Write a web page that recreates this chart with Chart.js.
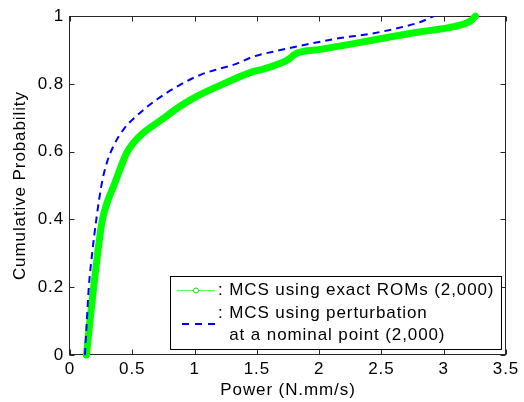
<!DOCTYPE html>
<html>
<head>
<meta charset="utf-8">
<script src="https://cdn.jsdelivr.net/npm/chart.js@4.4.1/dist/chart.umd.min.js"></script>
<style>
  html, body { margin: 0; padding: 0; background: #fff; }
  #wrap { width: 524px; height: 402px; }
</style>
</head>
<body>
<div id="wrap"><canvas id="c" width="524" height="402"></canvas></div>
<script>
// ---- Data ----
const exactX = [0.132, 0.160, 0.190, 0.222, 0.258, 0.300, 0.352, 0.405, 0.459, 0.566, 0.726, 0.887, 1.021, 1.181, 1.475, 1.545, 1.689, 1.756, 1.81, 2.01, 2.278, 2.546, 2.813, 3.08, 3.214, 3.254];
const exactY = [0.0, 0.1, 0.2, 0.3, 0.395, 0.452, 0.5, 0.552, 0.599, 0.648, 0.692, 0.735, 0.764, 0.792, 0.837, 0.843, 0.861, 0.873, 0.889, 0.902, 0.919, 0.937, 0.954, 0.969, 0.986, 1.0];

const pertX = [0.12, 0.135, 0.151, 0.178, 0.213, 0.258, 0.298, 0.352, 0.432, 0.566, 0.700, 0.887, 1.047, 1.181, 1.315, 1.475, 1.689, 1.877, 2.144, 2.412, 2.679, 2.813, 2.92];
const pertY = [0.0, 0.1, 0.2, 0.3, 0.405, 0.512, 0.570, 0.619, 0.667, 0.716, 0.755, 0.798, 0.827, 0.843, 0.857, 0.881, 0.900, 0.915, 0.934, 0.948, 0.969, 0.983, 1.0];

const xTicks = [0, 0.5, 1, 1.5, 2, 2.5, 3, 3.5];
const xTickLabels = ['0', '0.5', '1', '1.5', '2', '2.5', '3', '3.5'];
const yTicks = [0, 0.2, 0.4, 0.6, 0.8, 1];
const yTickLabels = ['0', '0.2', '0.4', '0.6', '0.8', '1'];

const seriesLabels = [': MCS using exact ROMs (2,000)', ': MCS using perturbation', 'at a nominal point (2,000)'];
const xTitle = 'Power (N.mm/s)';
const yTitle = 'Cumulative Probability';

// ---- Styling ----
const FONT = 'Liberation Sans, Arial, Helvetica, sans-serif';
const FS = 17;
const SPACING = '0.9px';
const GREEN = '#00ff00';
const BLUE = '#0000ff';
const AXIS = '#262626';

const toPts = (xs, ys) => xs.map((x, i) => ({x: x, y: ys[i]}));

const spacingPlugin = {
  id: 'spacing',
  beforeUpdate(chart) { chart.ctx.letterSpacing = SPACING; },
  beforeLayout(chart) { chart.ctx.letterSpacing = SPACING; },
  beforeDraw(chart) { chart.ctx.letterSpacing = SPACING; }
};

const boxPlugin = {
  id: 'box',
  beforeDatasetsDraw(chart) {
    const {ctx, chartArea: a, scales} = chart;
    ctx.save();
    ctx.strokeStyle = AXIS;
    ctx.lineWidth = 1;
    const L = Math.round(a.left) - 0.5, R = Math.round(a.right) - 0.5;
    const T = Math.round(a.top) + 0.5, B = Math.round(a.bottom) - 0.5;
    ctx.strokeRect(L, T, R - L, B - T);
    const tl = 5;
    ctx.beginPath();
    xTicks.forEach(v => {
      const px = Math.round(scales.x.getPixelForValue(v)) + 0.5;
      ctx.moveTo(px, B); ctx.lineTo(px, B - tl);
      ctx.moveTo(px, T); ctx.lineTo(px, T + tl);
    });
    yTicks.forEach(v => {
      const py = Math.round(scales.y.getPixelForValue(v)) + 0.5;
      ctx.moveTo(L, py); ctx.lineTo(L + tl, py);
      ctx.moveTo(R, py); ctx.lineTo(R - tl, py);
    });
    ctx.stroke();
    ctx.restore();
  }
};

const legendPlugin = {
  id: 'matLegend',
  afterDraw(chart) {
    const ctx = chart.ctx;
    ctx.save();
    ctx.letterSpacing = SPACING;
    const bx = 170.5, by = 276.5, bw = 331, bh = 73;
    ctx.fillStyle = '#fff';
    ctx.fillRect(bx, by, bw, bh);
    ctx.strokeStyle = '#000';
    ctx.lineWidth = 1;
    ctx.strokeRect(bx, by, bw, bh);

    // green sample
    ctx.strokeStyle = '#55ff55';
    ctx.lineWidth = 1;
    ctx.beginPath();
    ctx.moveTo(177, 290.5); ctx.lineTo(215, 290.5);
    ctx.stroke();
    ctx.beginPath();
    ctx.arc(196, 290.5, 2.5, 0, Math.PI * 2);
    ctx.fillStyle = '#fff';
    ctx.fill();
    ctx.strokeStyle = '#22cc22';
    ctx.stroke();

    // blue dashed sample
    ctx.strokeStyle = BLUE;
    ctx.lineWidth = 2;
    ctx.setLineDash([7, 6]);
    ctx.beginPath();
    ctx.moveTo(182, 324); ctx.lineTo(216, 324);
    ctx.stroke();
    ctx.setLineDash([]);

    ctx.fillStyle = '#000';
    ctx.font = FS + 'px ' + FONT;
    ctx.textBaseline = 'middle';
    ctx.textAlign = 'left';
    const tx = 218;
    ctx.fillText(seriesLabels[0], tx, 290.5);
    ctx.fillText(seriesLabels[1], tx, 313.5);
    const indent = ctx.measureText(': ').width;
    ctx.fillText(seriesLabels[2], tx + indent, 335.5);
    ctx.restore();
  }
};

const ctx = document.getElementById('c').getContext('2d');
new Chart(ctx, {
  type: 'scatter',
  data: {
    datasets: [
      {
        label: seriesLabels[1] + ' ' + seriesLabels[2],
        data: toPts(pertX, pertY),
        showLine: true,
        borderColor: BLUE,
        borderWidth: 2,
        borderDash: [7, 5],
        pointRadius: 0,
        cubicInterpolationMode: 'monotone',
        order: 1
      },
      {
        label: seriesLabels[0],
        data: toPts(exactX, exactY),
        showLine: true,
        borderColor: GREEN,
        borderWidth: 7,
        borderCapStyle: 'round',
        borderJoinStyle: 'round',
        pointRadius: 0,
        cubicInterpolationMode: 'monotone',
        clip: false,
        order: 2
      }
    ]
  },
  options: {
    responsive: false,
    animation: false,
    devicePixelRatio: 1,
    layout: { padding: { top: 12, right: 18, left: 0, bottom: 0 } },
    plugins: { legend: { display: false }, tooltip: { enabled: false } },
    scales: {
      x: {
        type: 'linear',
        min: 0, max: 3.5,
        afterBuildTicks: s => { s.ticks = xTicks.map(v => ({value: v})); },
        afterFit: s => { s.height = 47; },
        ticks: {
          callback: (v) => xTickLabels[xTicks.indexOf(v)],
          font: { family: FONT, size: FS },
          color: '#000',
          padding: 4,
          maxRotation: 0,
          autoSkip: false
        },
        grid: { display: false, drawTicks: false },
        border: { display: false },
        title: {
          display: true, text: xTitle, color: '#000',
          font: { family: FONT, size: FS },
          padding: { top: 0, bottom: 1 }
        }
      },
      y: {
        type: 'linear',
        min: 0, max: 1,
        afterBuildTicks: s => { s.ticks = yTicks.map(v => ({value: v})); },
        afterFit: s => { s.width = 70; },
        ticks: {
          callback: (v) => yTickLabels[yTicks.indexOf(v)],
          font: { family: FONT, size: FS },
          color: '#000',
          padding: 6,
          autoSkip: false
        },
        grid: { display: false, drawTicks: false },
        border: { display: false },
        title: {
          display: true, text: yTitle, color: '#000',
          font: { family: FONT, size: FS },
          padding: { top: 10.5, bottom: 0 }
        }
      }
    }
  },
  plugins: [spacingPlugin, boxPlugin, legendPlugin]
});
</script>
</body>
</html>
